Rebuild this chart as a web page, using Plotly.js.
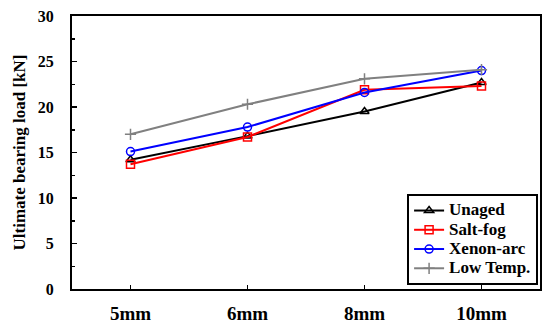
<!DOCTYPE html>
<html><head><meta charset="utf-8">
<script src="https://cdn.plot.ly/plotly-3.0.1.min.js"></script>
<style>html,body{margin:0;padding:0;background:#fff}#c{width:550px;height:328px}</style>
</head><body><div id="c"></div>
<script>
const categories = ["5mm", "6mm", "8mm", "10mm"];
const unaged = [14.2, 16.8, 19.5, 22.7];
const saltFog = [13.7, 16.7, 21.9, 22.3];
const xenonArc = [15.1, 17.8, 21.6, 24.0];
const lowTemp = [17.0, 20.3, 23.1, 24.1];
const seriesNames = ["Unaged", "Salt-fog", "Xenon-arc", "Low Temp."];

const F = "Liberation Serif, Times New Roman, serif";
function tr(name, y, color, symbol) {
  return {x: categories, y: y, name: '<span style="font-size:17px">' + name + '</span>',
    type: 'scatter', mode: 'lines+markers',
    line: {color: color, width: 2},
    marker: {symbol: symbol, size: 8, color: color, line: {color: color, width: 1.5}}};
}
const data = [
  tr(seriesNames[0], unaged, '#000000', 'triangle-up-open'),
  tr(seriesNames[1], saltFog, '#ff0000', 'square-open'),
  tr(seriesNames[2], xenonArc, '#0000ff', 'circle-open'),
  tr(seriesNames[3], lowTemp, '#808080', 'cross-thin-open')
];
const layout = {
  width: 550, height: 328,
  margin: {l: 72, r: 10, t: 16, b: 39},
  paper_bgcolor: '#fff', plot_bgcolor: '#fff',
  font: {family: F, color: '#000', size: 16, weight: 'bold'},
  showlegend: true,
  legend: {x: 0.716, y: 0.015, xanchor: 'left', yanchor: 'bottom',
    bordercolor: '#000', borderwidth: 2, bgcolor: '#fff',
    font: {family: F, size: 12.5, color: '#000', weight: 'bold'},
    tracegroupgap: 0, itemwidth: 30},
  xaxis: {type: 'category', showline: true, linecolor: '#000', linewidth: 2, mirror: true,
    ticks: 'inside', ticklen: 4, tickwidth: 1.5, tickcolor: '#000', showgrid: false,
    zeroline: false, range: [-0.5, 3.5],
    tickfont: {family: F, size: 19, color: '#000', weight: 'bold'}, ticklabelstandoff: 6},
  yaxis: {range: [0, 30], dtick: 5, showline: true, linecolor: '#000', linewidth: 2, mirror: true,
    ticks: 'inside', ticklen: 5, tickwidth: 1.5, tickcolor: '#000', showgrid: false, zeroline: false,
    minor: {dtick: 2.5, ticks: 'inside', ticklen: 3, tickwidth: 1.5, tickcolor: '#000', showgrid: false},
    tickfont: {family: F, size: 16, color: '#000', weight: 'bold'}, ticklabelstandoff: 13,
    title: {text: 'Ultimate bearing load [kN]', font: {family: F, size: 17, color: '#000', weight: 'bold'}, standoff: 8}}
};
Plotly.newPlot('c', data, layout, {displayModeBar: false, staticPlot: true});
</script></body></html>
